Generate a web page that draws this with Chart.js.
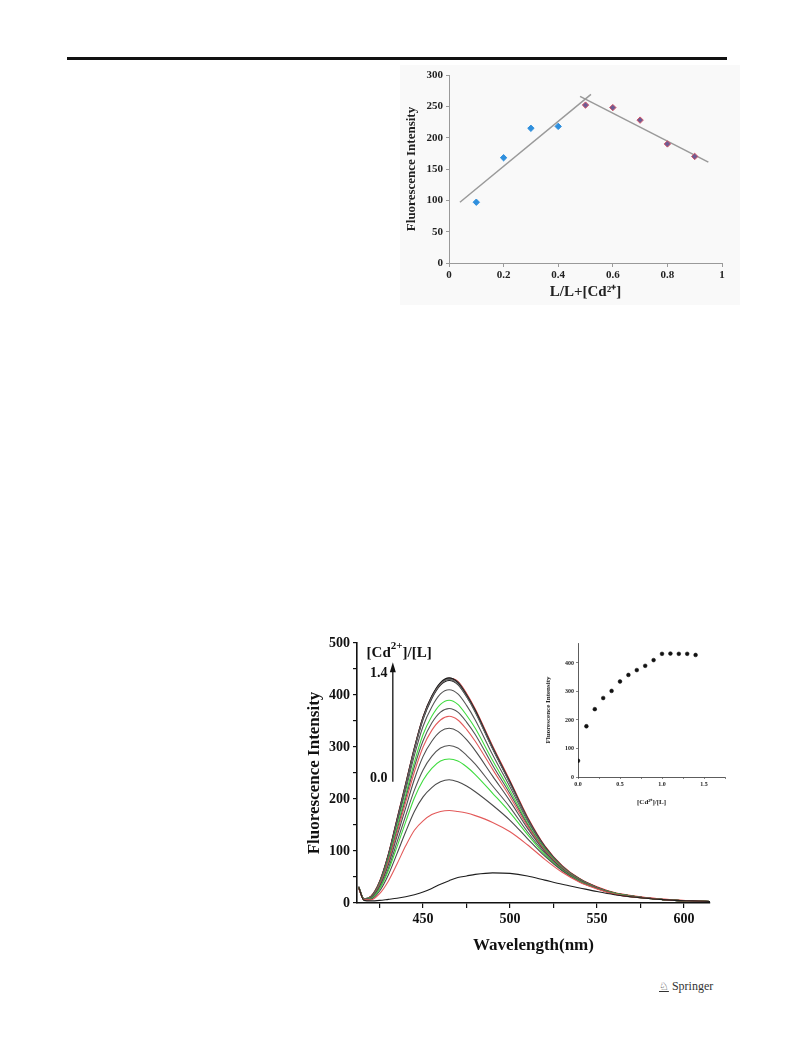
<!DOCTYPE html>
<html>
<head>
<meta charset="utf-8">
<script src="https://cdn.jsdelivr.net/npm/chart.js@4.4.0/dist/chart.umd.min.js"></script>
<style>
  body { margin: 0; background: #fff; }
  #page { position: relative; width: 793px; height: 1053px; overflow: hidden; background: #fff; }
  .rule { position: absolute; left: 67px; top: 57px; width: 660px; height: 3px; background: #111; }
  canvas { position: absolute; }
  #jobCanvas { left: 400px; top: 65px; background: #f9f9f9; }
  #specCanvas { left: 300px; top: 630px; }
  #insetCanvas { left: 540px; top: 635px; }
  .springer { position: absolute; left: 659px; top: 979px; font-family: "Liberation Serif", serif; font-size: 12px; color: #333; }
  .springer .logo { font-family: "DejaVu Sans", sans-serif; font-size: 11px; text-decoration: underline; margin-right: 3px; }
</style>
</head>
<body>
<div id="page">
  <div class="rule"></div>
  <canvas id="jobCanvas" width="340" height="240"></canvas>
  <canvas id="specCanvas" width="430" height="330"></canvas>
  <canvas id="insetCanvas" width="200" height="175"></canvas>
  <div class="springer"><span class="logo">&#9816;</span>Springer</div>
</div>
<script>
// ---- Job plot (top) ----
const jobX1 = [0.1, 0.2, 0.3, 0.4];
const jobY1 = [97, 168, 215, 218];
const jobX2 = [0.5, 0.6, 0.7, 0.8, 0.9];
const jobY2 = [252, 248, 228, 190, 170];
const fit1X = [0.04, 0.52];
const fit1Y = [97, 269];
const fit2X = [0.48, 0.95];
const fit2Y = [266, 161];
const jobXTicks = [0, 0.2, 0.4, 0.6, 0.8, 1];
const jobYTicks = [0, 50, 100, 150, 200, 250, 300];

// ---- Titration spectra (bottom) ----
const wavelengths = [413, 416, 420, 425, 430, 435, 440, 445, 450, 455, 460, 465, 470, 475, 480, 490, 500, 510, 520, 530, 540, 550, 560, 575, 590, 605, 615];
const i00 = [30, 5, 4, 5, 7, 9, 12, 16, 21, 28, 36, 43, 49, 52, 55, 58, 57, 52, 44, 36, 29, 22, 16, 10, 6, 4, 3];
const i01 = [28, 6, 6, 18, 42, 75, 110, 140, 158, 170, 176, 178, 176, 173, 168, 155, 137, 112, 84, 59, 40, 27, 17, 10, 6, 4, 3];
const i02 = [28, 6, 7, 23, 54, 95, 137, 176, 204, 222, 233, 237, 233, 225, 214, 188, 159, 124, 90, 62, 41, 28, 17, 10, 6, 4, 3];
const i03 = [29, 6, 8, 27, 62, 108, 156, 202, 236, 259, 273, 277, 273, 262, 247, 211, 174, 132, 93, 63, 42, 28, 18, 10, 6, 4, 3];
const i04 = [29, 7, 9, 29, 66, 117, 168, 217, 256, 282, 298, 303, 298, 284, 267, 225, 184, 137, 96, 64, 43, 28, 18, 10, 6, 4, 3];
const i05 = [29, 7, 10, 32, 73, 128, 183, 238, 282, 311, 330, 336, 330, 314, 293, 244, 196, 144, 99, 66, 44, 29, 18, 11, 6, 4, 3];
const i06 = [30, 7, 10, 34, 78, 135, 194, 252, 300, 332, 352, 359, 352, 334, 311, 257, 204, 148, 101, 67, 44, 29, 18, 11, 6, 4, 3];
const i07 = [30, 7, 11, 35, 81, 140, 201, 262, 312, 346, 367, 374, 367, 348, 324, 265, 210, 151, 102, 67, 45, 29, 19, 11, 6, 4, 3];
const i08 = [30, 8, 11, 36, 84, 146, 208, 271, 324, 359, 382, 390, 382, 361, 336, 274, 216, 154, 104, 68, 45, 29, 19, 11, 6, 4, 3];
const i09 = [30, 8, 11, 38, 88, 152, 217, 284, 340, 377, 402, 410, 402, 380, 352, 285, 223, 158, 106, 69, 45, 30, 19, 11, 6, 4, 3];
const i10 = [30, 8, 12, 40, 91, 158, 226, 296, 355, 395, 421, 430, 421, 397, 367, 296, 230, 162, 107, 70, 46, 30, 19, 11, 6, 4, 3];
const i11 = [30, 8, 12, 40, 92, 160, 228, 298, 358, 398, 424, 433, 424, 400, 370, 298, 232, 163, 108, 70, 46, 30, 19, 11, 6, 4, 3];
const i12 = [31, 7, 12, 41, 93, 161, 229, 298, 357, 397, 423, 432, 425, 401, 371, 300, 233, 164, 109, 71, 46, 30, 19, 11, 6, 4, 3];
const i13 = [29, 7, 13, 42, 94, 162, 230, 299, 358, 397, 422, 432, 426, 403, 373, 302, 235, 166, 110, 72, 47, 31, 20, 12, 7, 4, 3];
const i14 = [32, 8, 12, 40, 91, 158, 225, 294, 353, 393, 419, 428, 420, 397, 368, 297, 231, 163, 108, 70, 46, 30, 19, 11, 6, 4, 3];
const spectra = [i00, i01, i02, i03, i04, i05, i06, i07, i08, i09, i10, i11, i12, i13, i14];
const curveColors = ["#1e1e1e", "#e35a5a", "#4a4a4a", "#3fdc3f", "#555555", "#4d4d4d", "#e35a5a", "#555555", "#3fdc3f", "#555555", "#666666", "#1e1e1e", "#5a5a5a", "#e02c2c", "#1e1e1e"];
const specXTicks = [425, 450, 475, 500, 525, 550, 575, 600];
const specXLabels = [450, 500, 550, 600];
const specYTicks = [0, 50, 100, 150, 200, 250, 300, 350, 400, 450, 500];
const specYLabels = [0, 100, 200, 300, 400, 500];

// ---- Inset: peak intensity vs ratio ----
const ratios = [0.0, 0.1, 0.2, 0.3, 0.4, 0.5, 0.6, 0.7, 0.8, 0.9, 1.0, 1.1, 1.2, 1.3, 1.4];
const peakIntensity = [57, 178, 238, 277, 302, 335, 358, 375, 390, 410, 432, 433, 432, 432, 428];
const insetXTicks = [0, 0.25, 0.5, 0.75, 1, 1.25, 1.5, 1.75];
const insetXLabels = ["0.0", "0.5", "1.0", "1.5"];
const insetYTicks = [0, 100, 200, 300, 400];

const serif = '"Liberation Serif", "Times New Roman", serif';
const toPoints = (xs, ys) => xs.map((x, i) => ({ x: x, y: ys[i] }));

// top chart
new Chart(document.getElementById("jobCanvas"), {
  type: "scatter",
  data: {
    datasets: [
      { data: toPoints(jobX1, jobY1), pointStyle: "rectRot", pointRadius: 3.2, backgroundColor: "#2f8fdd", borderColor: "#2f8fdd", borderWidth: 1 },
      { data: toPoints(jobX2, jobY2), pointStyle: "rectRot", pointRadius: 3.2, backgroundColor: "#6d5c93", borderColor: "#d25468", borderWidth: 1 },
      { data: toPoints(fit1X, fit1Y), showLine: true, pointRadius: 0, borderColor: "#9a9a9a", borderWidth: 1.5 },
      { data: toPoints(fit2X, fit2Y), showLine: true, pointRadius: 0, borderColor: "#9a9a9a", borderWidth: 1.5 }
    ]
  },
  options: {
    responsive: false,
    animation: false,
    devicePixelRatio: 1,
    layout: { padding: { left: 0, right: 18, top: 10, bottom: 0 } },
    plugins: { legend: { display: false }, tooltip: { enabled: false } },
    scales: {
      x: {
        type: "linear", min: 0, max: 1,
        afterBuildTicks: (s) => { s.ticks = jobXTicks.map((v) => ({ value: v })); },
        afterFit: (s) => { s.height = 42; },
        grid: { drawOnChartArea: false, tickLength: 4, color: "#9a9a9a" },
        border: { color: "#9a9a9a" },
        ticks: { color: "#222", font: { family: serif, size: 11, weight: "bold" }, padding: 2, maxRotation: 0, callback: (v) => String(v) },
        title: { display: true, text: "L/L+[Cd²⁺]", color: "#222", font: { family: serif, size: 15, weight: "bold" }, padding: { top: 0 } }
      },
      y: {
        type: "linear", min: 0, max: 300,
        afterBuildTicks: (s) => { s.ticks = jobYTicks.map((v) => ({ value: v })); },
        afterFit: (s) => { s.width = 49; },
        grid: { drawOnChartArea: false, tickLength: 3, color: "#9a9a9a" },
        border: { color: "#9a9a9a" },
        ticks: { color: "#222", font: { family: serif, size: 11, weight: "bold" }, padding: 3 },
        title: { display: true, text: "Fluorescence Intensity", color: "#222", font: { family: serif, size: 13, weight: "bold" }, padding: { bottom: 2 } }
      }
    }
  }
});

// annotation inside the spectra plot: ratio arrow
const ratioArrow = {
  id: "ratioArrow",
  afterDraw(chart) {
    const ctx = chart.ctx;
    const x = chart.scales.x, y = chart.scales.y;
    ctx.save();
    ctx.fillStyle = "#111";
    ctx.strokeStyle = "#111";
    ctx.textBaseline = "alphabetic";
    // label "[Cd2+]/[L]"
    let tx = x.getPixelForValue(417.5);
    const ty = y.getPixelForValue(473);
    ctx.font = "bold 15px " + serif;
    ctx.fillText("[Cd", tx, ty);
    tx += ctx.measureText("[Cd").width;
    ctx.font = "bold 11px " + serif;
    ctx.fillText("2+", tx, ty - 8);
    tx += ctx.measureText("2+").width;
    ctx.font = "bold 15px " + serif;
    ctx.fillText("]/[L]", tx, ty);
    // numbers
    ctx.font = "bold 14px " + serif;
    ctx.textAlign = "right";
    const nx = x.getPixelForValue(429.5);
    ctx.fillText("1.4", nx, y.getPixelForValue(435));
    ctx.fillText("0.0", nx, y.getPixelForValue(232));
    // arrow
    const ax = x.getPixelForValue(432.6);
    const yBottom = y.getPixelForValue(233);
    const yTop = y.getPixelForValue(463);
    ctx.lineWidth = 1.3;
    ctx.beginPath();
    ctx.moveTo(ax, yBottom);
    ctx.lineTo(ax, yTop + 8);
    ctx.stroke();
    ctx.beginPath();
    ctx.moveTo(ax, yTop);
    ctx.lineTo(ax - 3, yTop + 10);
    ctx.lineTo(ax + 3, yTop + 10);
    ctx.closePath();
    ctx.fill();
    ctx.restore();
  }
};

new Chart(document.getElementById("specCanvas"), {
  type: "line",
  data: {
    datasets: spectra.map((vals, i) => ({
      data: toPoints(wavelengths, vals),
      borderColor: curveColors[i],
      borderWidth: 1.1,
      pointRadius: 0,
      cubicInterpolationMode: "monotone",
      fill: false
    }))
  },
  options: {
    responsive: false,
    animation: false,
    devicePixelRatio: 1,
    layout: { padding: { left: 0, right: 20, top: 13, bottom: 0 } },
    plugins: { legend: { display: false }, tooltip: { enabled: false } },
    scales: {
      x: {
        type: "linear", min: 412, max: 615,
        afterBuildTicks: (s) => { s.ticks = specXTicks.map((v) => ({ value: v })); },
        afterFit: (s) => { s.height = 57; },
        grid: { drawOnChartArea: false, tickLength: 5, color: "#111", lineWidth: 1.2 },
        border: { color: "#111", width: 1.6 },
        ticks: { color: "#111", font: { family: serif, size: 14, weight: "bold" }, padding: 3, maxRotation: 0, autoSkip: false,
          callback: (v) => (specXLabels.includes(v) ? String(v) : "") },
        title: { display: true, text: "Wavelength(nm)", color: "#111", font: { family: serif, size: 17, weight: "bold" }, padding: { top: 1 } }
      },
      y: {
        type: "linear", min: 0, max: 500,
        afterBuildTicks: (s) => { s.ticks = specYTicks.map((v) => ({ value: v })); },
        afterFit: (s) => { s.width = 57; },
        grid: { drawOnChartArea: false, tickLength: 4, color: "#111", lineWidth: 1.2 },
        border: { color: "#111", width: 1.6 },
        ticks: { color: "#111", font: { family: serif, size: 14, weight: "bold" }, padding: 3, autoSkip: false,
          callback: (v) => (specYLabels.includes(v) ? String(v) : "") },
        title: { display: true, text: "Fluorescence Intensity", color: "#111", font: { family: serif, size: 17, weight: "bold" }, padding: { bottom: 3 } }
      }
    }
  },
  plugins: [ratioArrow]
});

// inset
new Chart(document.getElementById("insetCanvas"), {
  type: "scatter",
  data: {
    datasets: [{ data: toPoints(ratios, peakIntensity), pointStyle: "circle", pointRadius: 1.9, backgroundColor: "#111", borderColor: "#111", borderWidth: 0.5 }]
  },
  options: {
    responsive: false,
    animation: false,
    devicePixelRatio: 1,
    layout: { padding: { left: 0, right: 15, top: 8, bottom: 0 } },
    plugins: { legend: { display: false }, tooltip: { enabled: false } },
    scales: {
      x: {
        type: "linear", min: 0, max: 1.75,
        afterBuildTicks: (s) => { s.ticks = insetXTicks.map((v) => ({ value: v })); },
        afterFit: (s) => { s.height = 33; },
        grid: { drawOnChartArea: false, tickLength: 2, color: "#333", lineWidth: 0.6 },
        border: { color: "#333", width: 0.8 },
        ticks: { color: "#222", font: { family: serif, size: 6, weight: "bold" }, padding: 2, maxRotation: 0, autoSkip: false,
          callback: (v) => (v % 0.5 === 0 ? insetXLabels[v / 0.5] : "") },
        title: { display: true, text: "[Cd²⁺]/[L]", color: "#222", font: { family: serif, size: 7, weight: "bold" }, padding: { top: 0 } }
      },
      y: {
        type: "linear", min: 0, max: 470,
        afterBuildTicks: (s) => { s.ticks = insetYTicks.map((v) => ({ value: v })); },
        afterFit: (s) => { s.width = 38; },
        grid: { drawOnChartArea: false, tickLength: 2, color: "#333", lineWidth: 0.6 },
        border: { color: "#333", width: 0.8 },
        ticks: { color: "#222", font: { family: serif, size: 6, weight: "bold" }, padding: 2, autoSkip: false },
        title: { display: true, text: "Fluorescence Intensity", color: "#222", font: { family: serif, size: 7, weight: "bold" }, padding: { bottom: 4 } }
      }
    }
  }
});
</script>
</body>
</html>
